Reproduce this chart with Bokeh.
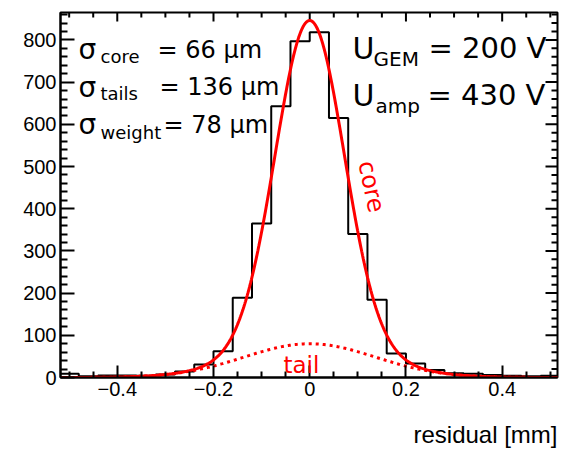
import numpy as np
from bokeh.plotting import figure
from bokeh.models import Range1d, FixedTicker, Label, LinearAxis
from bokeh.embed import file_html
from bokeh.resources import INLINE

# ---- data ----
bin_edges = [-0.52, -0.48, -0.44, -0.40, -0.36, -0.32, -0.28, -0.24, -0.20, -0.16,
             -0.12, -0.08, -0.04, 0.00, 0.04, 0.08, 0.12, 0.16, 0.20, 0.24,
             0.28, 0.32, 0.36, 0.40, 0.44, 0.48, 0.52]
counts = [9, 3, 5, 5, 4, 7, 14, 31, 62, 189,
          365, 643, 797, 818, 615, 340, 184, 57, 33, 18,
          10, 9, 6, 4, 3, 4]

# double-Gaussian fit parameters
core_amp = 766.0
core_sigma = 0.071
tail_amp = 80.0
tail_sigma = 0.136

x_ticks = [-0.4, -0.2, 0.0, 0.2, 0.4]
x_tick_labels = ["\u22120.4", "\u22120.2", "0", "0.2", "0.4"]
x_minor = [-0.5, -0.45, -0.35, -0.3, -0.25, -0.15, -0.1, -0.05, 0.05, 0.1, 0.15, 0.25, 0.3, 0.35, 0.45, 0.5]
y_ticks = [0, 100, 200, 300, 400, 500, 600, 700, 800]
y_minor = [v for v in range(0, 861, 20) if v % 100 != 0]
x_title = "residual [mm]"

X_MIN, X_MAX = -0.518, 0.515
Y_MIN, Y_MAX = 0, 865
FRAME_W, FRAME_H = 497.0, 365.0
PX_PER_X = FRAME_W / (X_MAX - X_MIN)
PX_PER_Y = FRAME_H / (Y_MAX - Y_MIN)

p = figure(width=561, height=456, output_backend="svg", toolbar_location=None,
           x_range=Range1d(X_MIN, X_MAX), y_range=Range1d(Y_MIN, Y_MAX),
           min_border_left=60, min_border_right=4, min_border_top=12, min_border_bottom=79)
p.grid.visible = False
p.outline_line_color = "black"
p.outline_line_width = 2
p.background_fill_color = "white"
p.border_fill_color = "white"

TICK_FONT = "Liberation Sans"

xa = p.xaxis[0]
xa.ticker = FixedTicker(ticks=x_ticks, minor_ticks=x_minor)
xa.major_label_overrides = {t: l for t, l in zip(x_ticks, x_tick_labels)}
xa.major_tick_in = 12
xa.major_tick_out = 0
xa.minor_tick_in = 6
xa.minor_tick_out = 0
xa.axis_line_width = 2
xa.major_tick_line_width = 2
xa.minor_tick_line_width = 2
xa.major_label_text_font = TICK_FONT
xa.major_label_text_font_size = "20px"
xa.major_label_text_color = "black"
xa.major_label_standoff = 4

# ROOT-style axis title, right-aligned at the end of the x axis
TITLE_SIZE = 24
title_width_px = 6.0 * TITLE_SIZE          # Liberation Sans advance of "residual [mm]"
title_x = X_MAX - (title_width_px / 2.0) / PX_PER_X
title_axis = LinearAxis(ticker=FixedTicker(ticks=[title_x], minor_ticks=[]),
                        major_label_overrides={title_x: x_title},
                        axis_line_color=None, major_tick_line_color=None,
                        minor_tick_line_color=None, major_tick_in=0, major_tick_out=0,
                        minor_tick_in=0, minor_tick_out=0,
                        major_label_text_font=TICK_FONT,
                        major_label_text_font_size=f"{TITLE_SIZE}px",
                        major_label_text_color="black",
                        major_label_standoff=22)
p.add_layout(title_axis, "below")

ya = p.yaxis[0]
ya.ticker = FixedTicker(ticks=y_ticks, minor_ticks=y_minor)
ya.major_tick_in = 14
ya.major_tick_out = 0
ya.minor_tick_in = 7
ya.minor_tick_out = 0
ya.axis_line_width = 2
ya.major_tick_line_width = 2
ya.minor_tick_line_width = 2
ya.major_label_text_font = TICK_FONT
ya.major_label_text_font_size = "20px"
ya.major_label_text_color = "black"
ya.major_label_standoff = 4

# mirrored tick marks on the top and right frame edges
def top_ticks(vals, length_px):
    dy = length_px / PX_PER_Y
    p.segment(x0=vals, y0=[Y_MAX] * len(vals), x1=vals, y1=[Y_MAX - dy] * len(vals),
              line_color="black", line_width=2)

def right_ticks(vals, length_px):
    dx = length_px / PX_PER_X
    p.segment(x0=[X_MAX] * len(vals), y0=vals, x1=[X_MAX - dx] * len(vals), y1=vals,
              line_color="black", line_width=2)

top_ticks(x_ticks, 9)
top_ticks(x_minor, 5)
right_ticks(y_ticks, 12)
right_ticks(y_minor, 6)

# histogram outline
p.step(x=bin_edges, y=counts + [counts[-1]], mode="after", line_color="black", line_width=2)

# fit curves
xf = np.linspace(X_MIN, X_MAX, 600)
core = core_amp * np.exp(-0.5 * (xf / core_sigma) ** 2)
tail = tail_amp * np.exp(-0.5 * (xf / tail_sigma) ** 2)
p.line(xf, tail, line_color="red", line_width=3, line_dash="3 4")
p.line(xf, core + tail, line_color="red", line_width=3)

# ---- text annotations (pixel positions converted to data coordinates) ----
def xd(px):
    return X_MIN + (px - 60.0) / PX_PER_X

def yd(py):
    return (377.0 - py) / PX_PER_Y

TXT = "DejaVu Sans"

def lab(text, px, py, size, color="black", angle=0.0, align="left", baseline="alphabetic"):
    if baseline == "alphabetic":
        py = py - 0.25 * size
    p.add_layout(Label(x=xd(px), y=yd(py), text=text, text_font=TXT,
                       text_font_size=f"{size}px", text_color=color,
                       text_align=align, text_baseline=baseline,
                       angle=angle, angle_units="deg"))

lab("\u03c3", 78, 56, 28)
lab("core", 100, 60, 18)
lab("= 66 \u03bcm", 157, 55, 24)
lab("\u03c3", 78, 94, 28)
lab("tails", 100, 97, 18)
lab("= 136 \u03bcm", 159, 92, 24)
lab("\u03c3", 78, 131, 28)
lab("weight", 100, 136, 18)
lab("= 78 \u03bcm", 163, 130, 24)

lab("U", 352, 55, 30)
lab("GEM", 373, 63, 20)
lab("= 200 V", 428, 55, 29)
lab("U", 352, 102, 30)
lab("amp", 375, 110, 20)
lab("= 430 V", 427, 102, 29)

lab("core", 371, 186, 24, color="red", angle=-78, align="center", baseline="middle")
lab("tail", 283, 370, 23, color="red")

open("out.html", "w").write(file_html(p, INLINE))
